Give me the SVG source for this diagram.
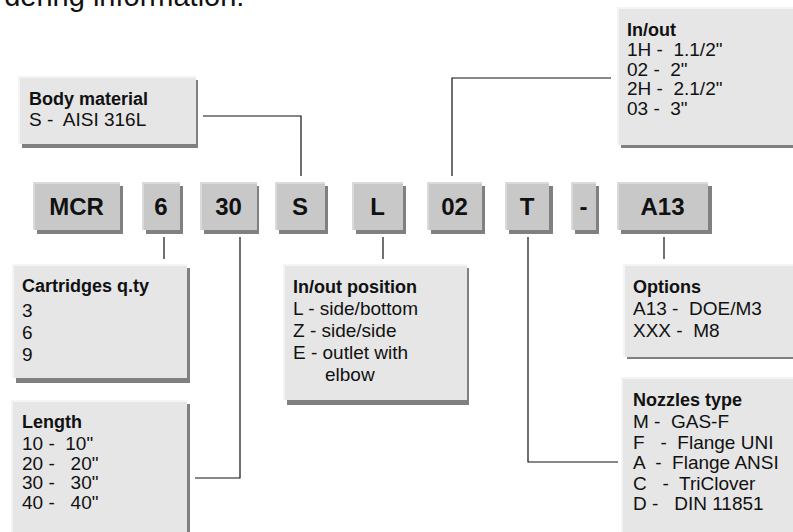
<svg xmlns="http://www.w3.org/2000/svg" width="793" height="532" viewBox="0 0 793 532">
<style>
  .t { font-family: "Liberation Sans", Arial, sans-serif; fill: #111; white-space: pre; }
  .h { font-size: 18px; font-weight: bold; }
  .r { font-size: 19px; }
  .c { font-size: 24px; font-weight: bold; text-anchor: middle; }
  .title { font-family: "Liberation Sans", Arial, sans-serif; font-size: 29px; fill: #111; }
  .sh { fill: #808080; }
  .lb { fill: #e6e6e6; }
  .cb { fill: #c8c8c8; }
  .hl { fill: none; stroke: #f4f4f4; stroke-width: 2; }
  .hlc { fill: none; stroke: #dadada; stroke-width: 2; }
  .ln { fill: none; stroke: #111; stroke-width: 1.2; }
</style>
<rect width="793" height="532" fill="#ffffff"/>
<text class="title" x="-28" y="6">Ordering information:</text>

<g id="connectors">
  <polyline class="ln" points="203,116 301,116 301,176"/>
  <polyline class="ln" points="611,78 452,78 452,176"/>
  <line class="ln" x1="164" y1="237" x2="164" y2="259"/>
  <polyline class="ln" points="240,237 240,478 195,478"/>
  <line class="ln" x1="383" y1="237" x2="383" y2="259"/>
  <polyline class="ln" points="528,237 528,462 618,462"/>
  <line class="ln" x1="664" y1="237" x2="664" y2="259"/>
</g>

<g id="code-MCR">
  <rect class="sh" x="37" y="186" width="86" height="48"/>
  <rect class="cb" x="33" y="182" width="87" height="48"/>
  <polyline class="hlc" points="34,230 34,183 120,183"/>
  <text class="t c" x="76.5" y="215">MCR</text>
</g>
<g id="code-6">
  <rect class="sh" x="146" y="186" width="37" height="48"/>
  <rect class="cb" x="142" y="182" width="38" height="48"/>
  <polyline class="hlc" points="143,230 143,183 180,183"/>
  <text class="t c" x="161" y="215">6</text>
</g>
<g id="code-30">
  <rect class="sh" x="204" y="186" width="55" height="48"/>
  <rect class="cb" x="200" y="182" width="57" height="48"/>
  <polyline class="hlc" points="201,230 201,183 257,183"/>
  <text class="t c" x="228.5" y="215">30</text>
</g>
<g id="code-S">
  <rect class="sh" x="279" y="186" width="49" height="48"/>
  <rect class="cb" x="275" y="182" width="50" height="48"/>
  <polyline class="hlc" points="276,230 276,183 325,183"/>
  <text class="t c" x="300" y="215">S</text>
</g>
<g id="code-L">
  <rect class="sh" x="356" y="186" width="50" height="48"/>
  <rect class="cb" x="352" y="182" width="51" height="48"/>
  <polyline class="hlc" points="353,230 353,183 403,183"/>
  <text class="t c" x="377.5" y="215">L</text>
</g>
<g id="code-02">
  <rect class="sh" x="431" y="186" width="54" height="48"/>
  <rect class="cb" x="427" y="182" width="55" height="48"/>
  <polyline class="hlc" points="428,230 428,183 482,183"/>
  <text class="t c" x="454.5" y="215">02</text>
</g>
<g id="code-T">
  <rect class="sh" x="509" y="186" width="44" height="48"/>
  <rect class="cb" x="505" y="182" width="44" height="48"/>
  <polyline class="hlc" points="506,230 506,183 549,183"/>
  <text class="t c" x="527" y="215">T</text>
</g>
<g id="code-dash">
  <rect class="sh" x="575" y="186" width="24" height="48"/>
  <rect class="cb" x="571" y="182" width="25" height="48"/>
  <polyline class="hlc" points="572,230 572,183 596,183"/>
  <text class="t c" x="583.5" y="215">-</text>
</g>
<g id="code-A13">
  <rect class="sh" x="621" y="186" width="91" height="48"/>
  <rect class="cb" x="617" y="182" width="91" height="48"/>
  <polyline class="hlc" points="618,230 618,183 708,183"/>
  <text class="t c" x="662.5" y="215">A13</text>
</g>

<g id="body-material">
  <rect class="sh" x="22" y="80" width="176" height="68"/>
  <rect class="lb" x="18" y="76" width="178" height="68"/>
  <polyline class="hl" points="19,144 19,77 196,77"/>
  <text class="t h" x="29" y="105">Body material</text>
  <text class="t r" x="29" y="126">S -  AISI 316L</text>
</g>

<g id="in-out">
  <rect class="sh" x="621" y="11" width="180" height="137"/>
  <rect class="lb" x="617" y="7" width="180" height="138"/>
  <polyline class="hl" points="618,145 618,8 797,8"/>
  <text class="t h" x="627" y="36">In/out</text>
  <text class="t r" x="627" y="56">1H -  1.1/2&quot;</text>
  <text class="t r" x="627" y="75.5">02 -  2&quot;</text>
  <text class="t r" x="627" y="95">2H -  2.1/2&quot;</text>
  <text class="t r" x="627" y="114.5">03 -  3&quot;</text>
</g>

<g id="cartridges">
  <rect class="sh" x="16" y="268" width="174" height="115"/>
  <rect class="lb" x="12" y="264" width="175" height="114"/>
  <polyline class="hl" points="13,378 13,265 187,265"/>
  <text class="t h" x="22" y="292">Cartridges q.ty</text>
  <text class="t r" x="22" y="317">3</text>
  <text class="t r" x="22" y="339">6</text>
  <text class="t r" x="22" y="361">9</text>
</g>

<g id="length">
  <rect class="sh" x="15" y="404" width="175" height="140"/>
  <rect class="lb" x="11" y="400" width="176" height="140"/>
  <polyline class="hl" points="12,540 12,401 187,401"/>
  <text class="t h" x="22" y="428">Length</text>
  <text class="t r" x="22" y="450">10 -  10&quot;</text>
  <text class="t r" x="22" y="469.5">20 -   20&quot;</text>
  <text class="t r" x="22" y="489">30 -   30&quot;</text>
  <text class="t r" x="22" y="508.5">40 -   40&quot;</text>
</g>

<g id="in-out-position">
  <rect class="sh" x="287" y="268" width="182" height="137"/>
  <rect class="lb" x="283" y="264" width="184" height="136"/>
  <polyline class="hl" points="284,400 284,265 467,265"/>
  <text class="t h" x="293" y="293">In/out position</text>
  <text class="t r" x="293" y="315">L - side/bottom</text>
  <text class="t r" x="293" y="337">Z - side/side</text>
  <text class="t r" x="293" y="359">E - outlet with</text>
  <text class="t r" x="325" y="381">elbow</text>
</g>

<g id="options">
  <rect class="sh" x="627" y="268" width="175" height="91"/>
  <rect class="lb" x="623" y="264" width="175" height="93"/>
  <polyline class="hl" points="624,357 624,265 798,265"/>
  <text class="t h" x="633" y="293">Options</text>
  <text class="t r" x="633" y="315">A13 -  DOE/M3</text>
  <text class="t r" x="633" y="337">XXX -  M8</text>
</g>

<g id="nozzles">
  <rect class="sh" x="625" y="381" width="175" height="160"/>
  <rect class="lb" x="621" y="377" width="177" height="160"/>
  <polyline class="hl" points="622,537 622,378 798,378"/>
  <text class="t h" x="633" y="406">Nozzles type</text>
  <text class="t r" x="633" y="428">M -  GAS-F</text>
  <text class="t r" x="633" y="449">F   -  Flange UNI</text>
  <text class="t r" x="633" y="469">A  -  Flange ANSI</text>
  <text class="t r" x="633" y="490">C   -  TriClover</text>
  <text class="t r" x="633" y="510">D -   DIN 11851</text>
</g>
</svg>
